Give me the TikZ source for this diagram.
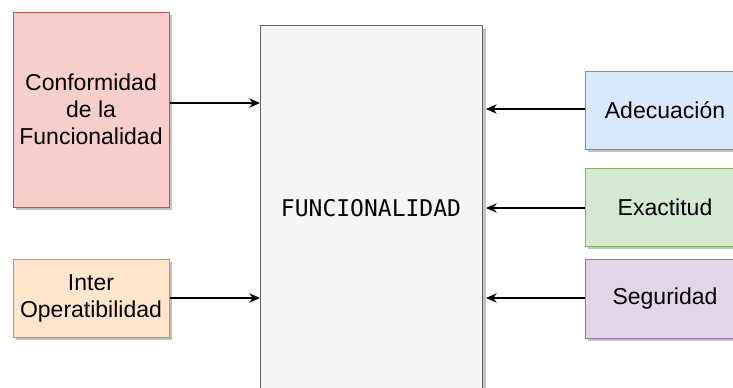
\documentclass[tikz,border=0pt]{standalone}
\usepackage{fontspec}
\setmainfont{Liberation Sans}
\newfontfamily\monofnt{DejaVu Sans Mono}
\usetikzlibrary{arrows.meta,shadows}
\definecolor{redF}{HTML}{F8CECC}\definecolor{redD}{HTML}{B85450}
\definecolor{orgF}{HTML}{FFE6CC}\definecolor{orgD}{HTML}{D79B00}
\definecolor{bluF}{HTML}{DAE8FC}\definecolor{bluD}{HTML}{6C8EBF}
\definecolor{grnF}{HTML}{D5E8D4}\definecolor{grnD}{HTML}{82B366}
\definecolor{purF}{HTML}{E1D5E7}\definecolor{purD}{HTML}{9673A6}
\definecolor{gryF}{HTML}{F5F5F5}\definecolor{gryD}{HTML}{666666}
\tikzset{
  px/.style={x=0.75pt,y=-0.75pt},
  boxstyle/.style={rectangle,line width=0.75pt,inner sep=0pt,
    drop shadow={shadow xshift=2.3pt,shadow yshift=-2.3pt,fill=black!40,opacity=0.6},
    font=\fontsize{17.25}{20.25}\selectfont,align=center},
  conn/.style={line width=0.9pt,-{Stealth[length=8pt,width=7pt,inset=2.5pt]}}
}
\begin{document}
\begin{tikzpicture}[px]
\useasboundingbox (0,0) rectangle (733,387);
\clip (0,0) rectangle (733,387);
% central box
\node[boxstyle,fill=gryF,draw=gryD,minimum width=222*0.75pt,minimum height=400*0.75pt,anchor=north west] (F) at (260,25) {};
\node[font=\monofnt\fontsize{17.25}{20}\selectfont] (Ft) at (371,208) {FUNCIONALIDAD};
% left boxes
\node[boxstyle,fill=redF,draw=redD,minimum width=156*0.75pt,minimum height=195*0.75pt] (C) at (91,109.5) {Conformidad\\de la\\Funcionalidad};
\node[boxstyle,fill=orgF,draw=orgD,minimum width=156*0.75pt,minimum height=78*0.75pt] (I) at (91,298) {Inter\\Operatibilidad};
% right boxes
\node[boxstyle,fill=bluF,draw=bluD,minimum width=160*0.75pt,minimum height=78*0.75pt] (A) at (665,110) {Adecuación};
\node[boxstyle,fill=grnF,draw=grnD,minimum width=160*0.75pt,minimum height=78*0.75pt] (E) at (665,207) {Exactitud};
\node[boxstyle,fill=purF,draw=purD,minimum width=160*0.75pt,minimum height=79*0.75pt] (S) at (665,298.5) {Seguridad};
% connectors
\coordinate (c1) at (260,103);
\coordinate (c2) at (260,298);
\coordinate (a1) at (486,109);
\coordinate (a2) at (486,208);
\coordinate (a3) at (486,298);
\draw[conn] (C.east |- c1) -- (c1);
\draw[conn] (I.east |- c2) -- (c2);
\draw[conn] (A.west |- a1) -- (a1);
\draw[conn] (E.west |- a2) -- (a2);
\draw[conn] (S.west |- a3) -- (a3);
\end{tikzpicture}
\end{document}
